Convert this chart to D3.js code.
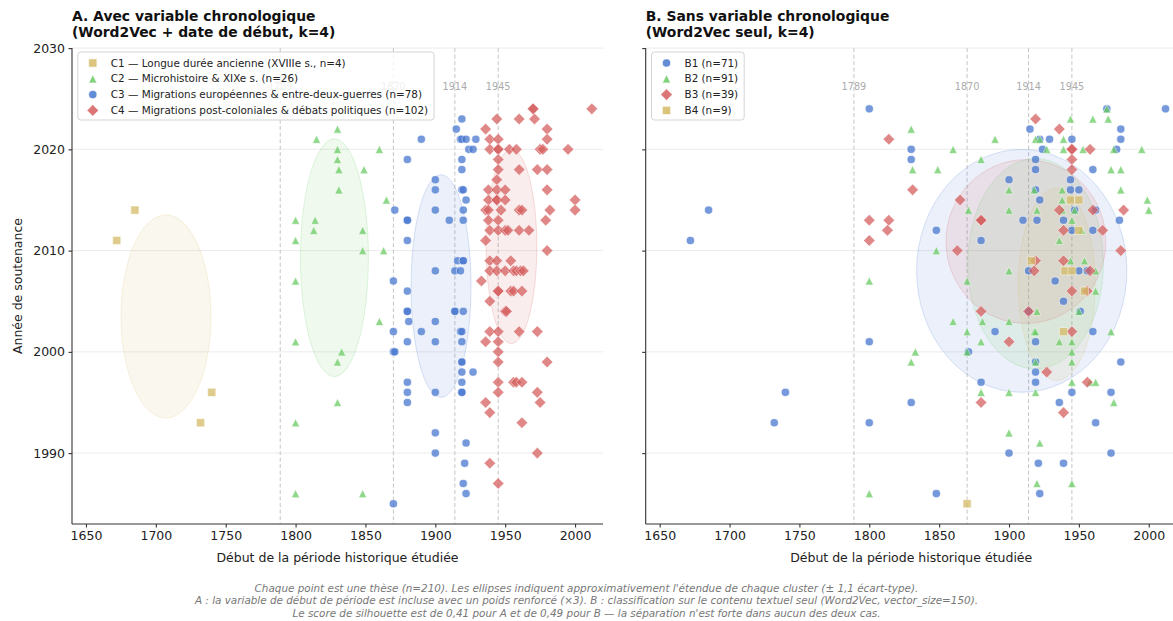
<!DOCTYPE html>
<html><head><meta charset="utf-8">
<script src="https://cdn.jsdelivr.net/npm/d3@7"></script>
<style>
body{margin:0;background:#fff;}
svg{display:block;font-family:"DejaVu Sans",sans-serif;}
</style></head><body>
<svg id="chart" width="1173" height="621"></svg>
<script>
// ---------- DATA ----------
const xTicks = [1650,1700,1750,1800,1850,1900,1950,2000];
const yTicks = [1990,2000,2010,2020,2030];
const eventYears = [1789,1870,1914,1945];

// Panel A: [start of studied period, defense year]
const panelA_C1 = [[1672,2011],[1685,2014],[1732,1993],[1740,1996]];
const panelA_C2 = [[1830,2022],[1815,2021],[1830,2020],[1830,2019],[1831,2018],[1831,2016],[1800,2013],[1814,2013],[1813,2012],[1800,2011],[1800,2007],[1800,2001],[1833,2000],[1830,1999],[1830,1995],[1800,1993],[1800,1986],[1860,2020],[1849,2018],[1865,2015],[1848,2012],[1848,2010],[1863,2010],[1860,2003],[1848,1986]];
const panelA_C3 = [[1919,2023],[1915,2022],[1890,2021],[1918,2021],[1919,2021],[1922,2021],[1929,2021],[1924,2020],[1927,2020],[1880,2019],[1919,2019],[1919,2018],[1900,2017],[1900,2016],[1919,2016],[1920,2016],[1922,2015],[1871,2014],[1900,2014],[1920,2014],[1880,2013],[1880,2013],[1910,2013],[1920,2013],[1880,2011],[1916,2009],[1920,2009],[1920,2009],[1900,2008],[1914,2008],[1918,2008],[1870,2007],[1880,2006],[1880,2004],[1880,2004],[1914,2004],[1914,2004],[1920,2004],[1881,2003],[1900,2003],[1870,2002],[1890,2002],[1918,2002],[1919,2002],[1880,2001],[1900,2001],[1919,2001],[1870,2000],[1871,2000],[1919,1999],[1919,1999],[1919,1998],[1927,1998],[1880,1997],[1919,1997],[1880,1996],[1900,1996],[1919,1996],[1919,1996],[1880,1995],[1900,1992],[1922,1991],[1900,1990],[1921,1989],[1920,1987],[1922,1986],[1870,1985]];
const panelA_C4 = [[1970,2024],[1970,2024],[2012,2024],[1944,2023],[1960,2023],[1971,2023],[1936,2022],[1980,2022],[1939,2021],[1945,2021],[1980,2021],[1939,2020],[1945,2020],[1945,2020],[1953,2020],[1958,2020],[1975,2020],[1977,2020],[1995,2020],[1945,2019],[1945,2018],[1960,2018],[1973,2018],[1980,2018],[1944,2017],[1938,2016],[1944,2016],[1950,2016],[1980,2016],[1938,2015],[1944,2015],[1944,2015],[1950,2015],[2000,2015],[1936,2014],[1938,2014],[1947,2014],[1960,2014],[1962,2014],[1982,2014],[2000,2014],[1938,2013],[1945,2013],[1979,2013],[1939,2012],[1945,2012],[1950,2012],[1952,2012],[1960,2012],[1967,2012],[1936,2011],[1980,2010],[1939,2009],[1944,2009],[1954,2009],[1939,2008],[1944,2008],[1950,2008],[1956,2008],[1958,2008],[1961,2008],[1963,2008],[1933,2007],[1945,2006],[1945,2006],[1954,2006],[1956,2006],[1962,2006],[1939,2005],[1950,2004],[1951,2004],[1939,2002],[1945,2002],[1960,2002],[1973,2002],[1936,2001],[1945,2001],[1945,2000],[1945,1999],[1980,1999],[1945,1997],[1956,1997],[1958,1997],[1962,1997],[1945,1996],[1973,1996],[1936,1995],[1975,1995],[1939,1994],[1962,1993],[1973,1990],[1939,1989],[1945,1987]];

// Panel B
const panelB_B1 = [[1685,2014],[1672,2011],[1740,1996],[1732,1993],[1800,2001],[1800,1993],[1800,2024],[1970,2024],[2012,2024],[1915,2022],[1980,2022],[1922,2021],[1929,2021],[1945,2021],[1980,2021],[1830,2020],[1924,2020],[1977,2020],[1830,2019],[1919,2019],[1919,2018],[1960,2018],[1900,2017],[1944,2017],[1919,2016],[1944,2016],[1950,2016],[1922,2015],[1947,2014],[1962,2014],[1910,2013],[1920,2013],[1939,2013],[1979,2013],[1848,2012],[1945,2012],[1960,2012],[1880,2011],[1914,2008],[1950,2008],[1956,2008],[1933,2007],[1939,2005],[1914,2004],[1951,2004],[1890,2002],[1960,2002],[1919,2001],[1871,2000],[1919,1999],[1980,1999],[1919,1998],[1880,1997],[1919,1997],[1945,1996],[1973,1996],[1830,1995],[1936,1995],[1962,1993],[1900,1990],[1973,1990],[1921,1989],[1939,1989],[1848,1986],[1922,1986]];
const panelB_B2 = [[1800,2007],[1800,1986],[1970,2024],[1944,2023],[1960,2023],[1971,2023],[1830,2022],[1890,2021],[1919,2021],[1922,2021],[1939,2021],[1860,2020],[1927,2020],[1939,2020],[1953,2020],[1975,2020],[1995,2020],[1880,2019],[1831,2018],[1849,2018],[1973,2018],[1980,2018],[1900,2016],[1918,2016],[1938,2016],[1980,2016],[1938,2015],[1999,2015],[1871,2014],[1900,2014],[1920,2014],[1938,2014],[1947,2014],[2000,2014],[1945,2013],[1952,2012],[1936,2011],[1848,2010],[1944,2009],[1954,2009],[1962,2008],[1900,2008],[1870,2007],[1962,2006],[1920,2004],[1950,2004],[1860,2003],[1881,2003],[1900,2003],[1870,2002],[1918,2002],[1919,2002],[1973,2002],[1880,2001],[1936,2001],[1945,2001],[1833,2000],[1870,2000],[1945,2000],[1830,1999],[1919,1999],[1945,1999],[1945,1997],[1958,1997],[1962,1997],[1880,1996],[1900,1996],[1919,1996],[1975,1995],[1900,1992],[1922,1991],[1920,1987],[1945,1987]];
const panelB_B3 = [[1814,2021],[1800,2013],[1814,2013],[1813,2012],[1800,2011],[1919,2023],[1936,2022],[1945,2020],[1945,2020],[1958,2020],[1945,2019],[1945,2018],[1831,2016],[1865,2015],[1936,2014],[1960,2014],[1982,2014],[1880,2013],[1880,2013],[1939,2012],[1967,2012],[1863,2010],[1980,2010],[1919,2009],[1939,2009],[1918,2008],[1958,2008],[1945,2006],[1956,2006],[1880,2004],[1914,2004],[1945,2002],[1900,2001],[1927,1998],[1956,1997],[1880,1995],[1939,1994]];
const panelB_B4 = [[1944,2015],[1950,2015],[1950,2012],[1916,2009],[1940,2008],[1945,2008],[1954,2006],[1939,2002],[1870,1985]];

// Cluster summaries (mean and standard deviation) used for ellipses (± 1.1 sd)
const ellipseA_mean = [[1707.25,2003.5],[1827.8,2009.3],[1904.1,2006.5],[1954.5,2010.4]];
const ellipseA_sd   = [[29.25,9.12],[22.1,10.67],[19.5,10.0],[16.5,8.7]];
const ellipseB_mean = [[1909.1,2008.0],[1919.0,2008.7],[1912.1,2010.9],[1934.2,2006.67]];
const ellipseB_sd   = [[68.4,10.9],[44.1,9.45],[52.0,7.35],[25.0,8.62]];

const legendA = ["C1 — Longue durée ancienne (XVIIIe s., n=4)","C2 — Microhistoire & XIXe s. (n=26)","C3 — Migrations européennes & entre-deux-guerres (n=78)","C4 — Migrations post-coloniales & débats politiques (n=102)"];
const legendB = ["B1 (n=71)","B2 (n=91)","B3 (n=39)","B4 (n=9)"];
const titlesA = ["A. Avec variable chronologique","(Word2Vec + date de début, k=4)"];
const titlesB = ["B. Sans variable chronologique","(Word2Vec seul, k=4)"];
const xLabel = "Début de la période historique étudiée";
const yLabel = "Année de soutenance";
const footnote = [
 "Chaque point est une thèse (n=210). Les ellipses indiquent approximativement l'étendue de chaque cluster (± 1,1 écart-type).",
 "A : la variable de début de période est incluse avec un poids renforcé (×3). B : classification sur le contenu textuel seul (Word2Vec, vector_size=150).",
 "Le score de silhouette est de 0,41 pour A et de 0,49 pour B — la séparation n'est forte dans aucun des deux cas."
];

// ---------- STYLE ----------
const COL = {blue:"#4878d0", green:"#6acc64", red:"#d65f5f", tan:"#d5bb67"};
const S = 4.1;
const shapes = {
  circle:{draw(c,s){c.moveTo(s,0);c.arc(0,0,s,0,2*Math.PI);}},
  square:{draw(c,s){c.rect(-s,-s,2*s,2*s);}},
  triangle:{draw(c,s){c.moveTo(0,-s);c.lineTo(s,s);c.lineTo(-s,s);c.closePath();}},
  diamond:{draw(c,s){const d=s*1.414;c.moveTo(0,-d);c.lineTo(d,0);c.lineTo(0,d);c.lineTo(-d,0);c.closePath();}}
};

const svg = d3.select("#chart");
const Y0 = 48.1, Y1 = 524;
const y = d3.scaleLinear().domain([1983,2030]).range([Y1,Y0]);

const panels = [
  {x0:72, x1:603, titles:titlesA, labels:legendA, means:ellipseA_mean, sds:ellipseA_sd, showY:true,
   groups:[{d:panelA_C1,c:COL.tan,s:"square"},{d:panelA_C2,c:COL.green,s:"triangle"},{d:panelA_C3,c:COL.blue,s:"circle"},{d:panelA_C4,c:COL.red,s:"diamond"}]},
  {x0:645.7, x1:1176.7, titles:titlesB, labels:legendB, means:ellipseB_mean, sds:ellipseB_sd, showY:false,
   groups:[{d:panelB_B1,c:COL.blue,s:"circle"},{d:panelB_B2,c:COL.green,s:"triangle"},{d:panelB_B3,c:COL.red,s:"diamond"},{d:panelB_B4,c:COL.tan,s:"square"}]}
];

panels.forEach(p=>{
  const x = d3.scaleLinear().domain([1640,2020]).range([p.x0,p.x1]);
  const g = svg.append("g");

  // grid
  g.selectAll(".grid").data(yTicks).join("line")
    .attr("x1",p.x0).attr("x2",p.x1).attr("y1",d=>y(d)).attr("y2",d=>y(d))
    .attr("stroke","#ebebeb").attr("stroke-width",1);

  // event lines
  g.selectAll(".ev").data(eventYears).join("line")
    .attr("x1",d=>x(d)).attr("x2",d=>x(d)).attr("y1",Y0).attr("y2",Y1)
    .attr("stroke","#c4c4c4").attr("stroke-width",1).attr("stroke-dasharray","4,2.5");
  g.selectAll(".evl").data(eventYears).join("text")
    .attr("x",d=>x(d)).attr("y",Y0+0.08*(Y1-Y0)).attr("dy","0.35em")
    .attr("text-anchor","middle").attr("font-size","9.7px").attr("fill","#ababab").text(d=>d);

  // ellipses
  p.groups.forEach((gr,i)=>{
    const m=p.means[i], sd=p.sds[i];
    const cx=x(m[0]), cy=y(m[1]);
    g.append("ellipse").attr("cx",cx).attr("cy",cy)
      .attr("rx",x(m[0]+1.1*sd[0])-cx).attr("ry",cy-y(m[1]+1.1*sd[1]))
      .attr("fill",gr.c).attr("fill-opacity",0.11)
      .attr("stroke",gr.c).attr("stroke-opacity",0.2).attr("stroke-width",1);
  });

  // points
  p.groups.forEach(gr=>{
    const sym = d3.symbol().type(shapes[gr.s]).size(S);
    g.append("g").selectAll("path").data(gr.d).join("path")
      .attr("transform",d=>`translate(${x(d[0])},${y(d[1])})`)
      .attr("d",sym).attr("fill",gr.c).attr("stroke","#fff").attr("stroke-width",0.6)
      .attr("opacity",0.75);
  });

  // axes
  const xa = g.append("g").attr("transform",`translate(0,${Y1})`)
    .call(d3.axisBottom(x).tickValues(xTicks).tickFormat(d3.format("d")).tickSize(3.5).tickPadding(3.5).tickSizeOuter(0));
  const ya = g.append("g").attr("transform",`translate(${p.x0},0)`)
    .call(d3.axisLeft(y).tickValues(yTicks).tickFormat(p.showY?d3.format("d"):"").tickSize(3.5).tickPadding(3.5).tickSizeOuter(0));
  [xa,ya].forEach(a=>{
    a.select(".domain").attr("stroke","#333").attr("stroke-width",1.1);
    a.selectAll(".tick line").attr("stroke","#333").attr("stroke-width",1.1);
    a.selectAll(".tick text").attr("font-size","12.5px").attr("fill","#222").attr("font-family","DejaVu Sans");
  });
  ya.select(".domain").attr("d",`M0,${Y1}V${Y0}`);
  xa.select(".domain").attr("d",`M${p.x0},0H${p.x1}`);

  // axis labels
  g.append("text").attr("x",(p.x0+p.x1)/2).attr("y",561.5).attr("text-anchor","middle")
    .attr("font-size","12.5px").attr("fill","#222").text(xLabel);
  if(p.showY){
    g.append("text").attr("transform",`translate(18,${(Y0+Y1)/2}) rotate(-90)`).attr("dy","0.35em")
      .attr("text-anchor","middle").attr("font-size","12.5px").attr("fill","#222").text(yLabel);
  }

  // titles
  p.titles.forEach((t,i)=>{
    g.append("text").attr("x",p.x0).attr("y",21+i*16).attr("font-size","13.9px").attr("font-weight","bold")
      .attr("fill","#111").text(t);
  });

  // legend
  const lg = g.append("g").attr("transform",`translate(${p.x0+5.8},52)`);
  const box = lg.append("rect").attr("rx",3).attr("ry",3).attr("fill","#fff").attr("fill-opacity",0.8)
    .attr("stroke","#d4d4d4").attr("stroke-width",1).attr("height",68);
  let maxW = 0;
  p.groups.forEach((gr,i)=>{
    const yy = 11 + i*15.8;
    lg.append("path").attr("transform",`translate(15,${yy})`)
      .attr("d",d3.symbol().type(shapes[gr.s]).size(S)()).attr("fill",gr.c).attr("stroke","#fff")
      .attr("stroke-width",0.6).attr("opacity",0.85);
    const t = lg.append("text").attr("x",33).attr("y",yy).attr("dy","0.35em")
      .attr("font-size","10.4px").attr("fill","#222").text(p.labels[i]);
    maxW = Math.max(maxW, t.node().getComputedTextLength());
  });
  box.attr("width",33+maxW+6);
});

// footnote
svg.append("g").selectAll("text").data(footnote).join("text")
  .attr("x",586.5).attr("y",(d,i)=>591.7+i*12.5).attr("text-anchor","middle")
  .attr("font-size","10.4px").attr("font-style","italic").attr("fill","#777").text(d=>d);
</script>
</body></html>
